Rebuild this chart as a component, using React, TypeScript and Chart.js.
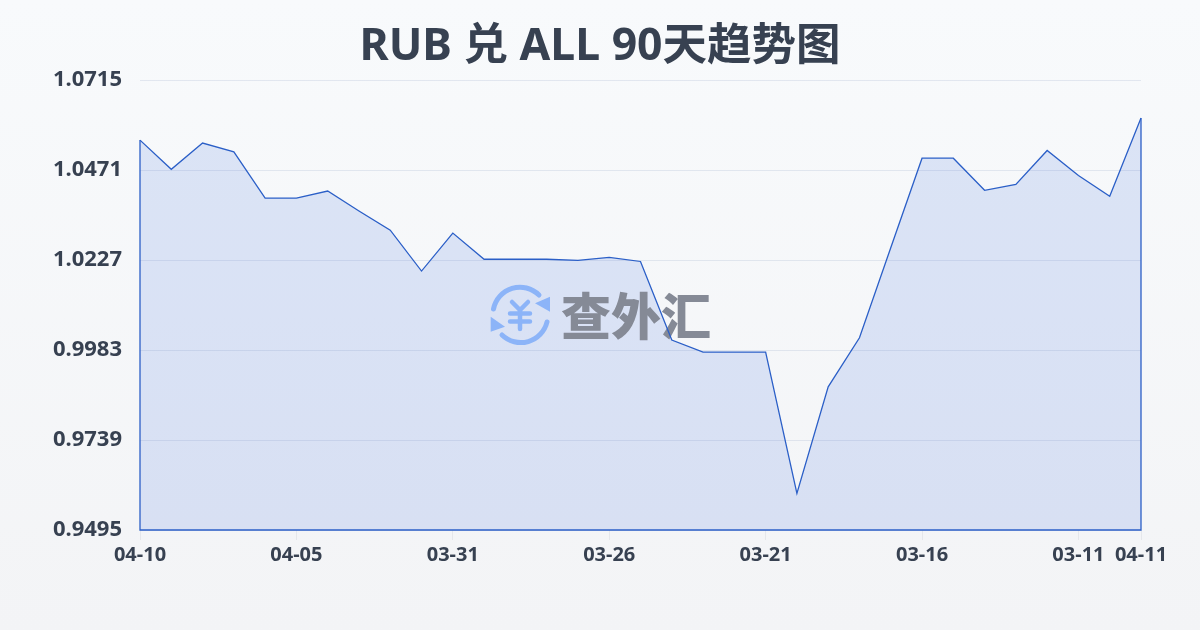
import React, { useEffect, useRef } from "react";
import { Chart, registerables } from "chart.js";

Chart.register(...registerables);

const categories = [
  "04-10", "04-09", "04-08", "04-07", "04-06", "04-05", "04-04", "04-03", "04-02", "04-01", "03-31",
  "03-30", "03-29", "03-28", "03-27", "03-26", "03-25", "03-24", "03-23", "03-22", "03-21",
  "03-20", "03-19", "03-18", "03-17", "03-16", "03-15", "03-14", "03-13", "03-12", "03-11", "03-10", "04-11",
];
const rates = [
  1.0552, 1.0473, 1.0544, 1.052, 1.0395, 1.0395, 1.0414, 1.036, 1.0308, 1.0197, 1.03,
  1.0229, 1.0229, 1.0229, 1.0226, 1.0234, 1.0223, 1.001, 0.9977, 0.9977, 0.9977,
  0.9594, 0.9883, 1.0016, 1.026, 1.0503, 1.0503, 1.0416, 1.0432, 1.0524, 1.0456, 1.04, 1.0612,
];
const yTickValues = [0.9495, 0.9739, 0.9983, 1.0227, 1.0471, 1.0715];
const xTickIndexes = [0, 5, 10, 15, 20, 25, 30, 32];
const titleText = "RUB 兑 ALL 90天趋势图";
const brandText = "查外汇";

const FONT = '"Noto Sans", "Noto Sans CJK SC", sans-serif';
const LINE = "#2b5fc7";
const ICON = "#8cb4f8";

const edgePlugin = {
  id: "areaEdges",
  afterDatasetsDraw(chart: any) {
    const pts = chart.getDatasetMeta(0).data;
    const first = pts[0];
    const last = pts[pts.length - 1];
    const bottom = chart.scales.y.getPixelForValue(yTickValues[0]);
    const ctx = chart.ctx;
    ctx.save();
    ctx.strokeStyle = LINE;
    ctx.lineWidth = 1.3;
    ctx.beginPath();
    ctx.moveTo(first.x, first.y);
    ctx.lineTo(first.x, bottom);
    ctx.lineTo(last.x, bottom);
    ctx.lineTo(last.x, last.y);
    ctx.stroke();
    ctx.restore();
  },
};

// Runs after the filler has painted the area and before the line is stroked.
const watermarkPlugin = {
  id: "watermark",
  beforeDatasetDraw(chart: any) {
    const ctx = chart.ctx;
    ctx.save();
    ctx.font = '900 50px "Noto Sans CJK SC", sans-serif';
    ctx.fillStyle = "#858a96";
    ctx.textAlign = "left";
    ctx.textBaseline = "alphabetic";
    ctx.fillText(brandText, 561, 334.5);

    ctx.translate(489, 284);
    ctx.strokeStyle = ICON;
    ctx.fillStyle = ICON;
    ctx.lineCap = "round";
    ctx.lineWidth = 5;
    ctx.stroke(new Path2D("M4.5 25 A27 27 0 0 1 50 11"));
    ctx.stroke(new Path2D("M58 38 A27 27 0 0 1 13 51"));
    ctx.lineWidth = 4.5;
    ctx.stroke(new Path2D("M23 18 L31 26 L39 18 M21 29.5 H41 M21 37.5 H41 M31 26 V45"));
    ctx.fill(new Path2D("M61 12.7 L61 27.7 L46 19.3 Z"));
    ctx.fill(new Path2D("M1.7 32.7 L1.7 47.7 L16 42.7 Z"));
    ctx.restore();
  },
};

export default function App() {
  const ref = useRef<HTMLCanvasElement>(null);
  useEffect(() => {
    document.body.style.margin = "0";
    const chart = new Chart(ref.current as HTMLCanvasElement, {
      type: "line",
      data: {
        labels: categories,
        datasets: [
          {
            data: rates,
            yAxisID: "y",
            borderColor: LINE,
            borderWidth: 1.3,
            backgroundColor: "rgba(59,110,220,0.15)",
            fill: "start",
            pointRadius: 0,
            tension: 0,
          },
        ],
      },
      options: {
        responsive: false,
        animation: false,
        layout: { padding: 0 },
        plugins: {
          legend: { display: false },
          tooltip: { enabled: false },
          title: {
            display: true,
            text: titleText,
            color: "#374151",
            font: { family: FONT, size: 44.5, weight: "bold" },
            padding: { top: 21, bottom: 5.6 },
          },
        },
        scales: {
          x: {
            type: "category",
            offset: false,
            afterBuildTicks(scale: any) {
              scale.ticks = xTickIndexes.map((i) => ({ value: i, label: categories[i] }));
            },
            afterFit(scale: any) {
              scale.height = 100;
            },
            border: { display: false },
            grid: { drawOnChartArea: false, drawTicks: true, tickLength: 10, color: "#e5e7eb" },
            ticks: {
              autoSkip: false,
              maxRotation: 0,
              color: "#374151",
              padding: 3,
              font: { family: FONT, size: 20, weight: "bold" },
            },
          },
          y: {
            min: yTickValues[0],
            max: yTickValues[yTickValues.length - 1],
            afterBuildTicks(scale: any) {
              scale.ticks = yTickValues.map((v) => ({ value: v }));
            },
            afterFit(scale: any) {
              scale.width = 140;
            },
            border: { display: false },
            grid: { drawTicks: false, color: "rgba(160,175,205,0.25)", lineWidth: 1 },
            ticks: {
              color: "#374151",
              padding: 18,
              font: { family: FONT, size: 22, weight: "bold" },
              callback: (v: any) => Number(v).toFixed(4),
            },
          },
          spacer: {
            type: "linear",
            position: "right",
            afterFit(scale: any) {
              scale.width = 59;
            },
            border: { display: false },
            grid: { display: false, drawOnChartArea: false },
            ticks: { display: false },
          },
        },
      },
      plugins: [watermarkPlugin, edgePlugin],
    } as any);
    return () => chart.destroy();
  }, []);

  return (
    <div
      style={{
        position: "absolute",
        left: 0,
        top: 0,
        width: 1200,
        height: 630,
        overflow: "hidden",
        background: "linear-gradient(180deg, #f8fafc 0%, #f3f4f6 100%)",
      }}
    >
      <canvas ref={ref} width={1200} height={630} style={{ position: "absolute", left: 0, top: 0 }} />
    </div>
  );
}
